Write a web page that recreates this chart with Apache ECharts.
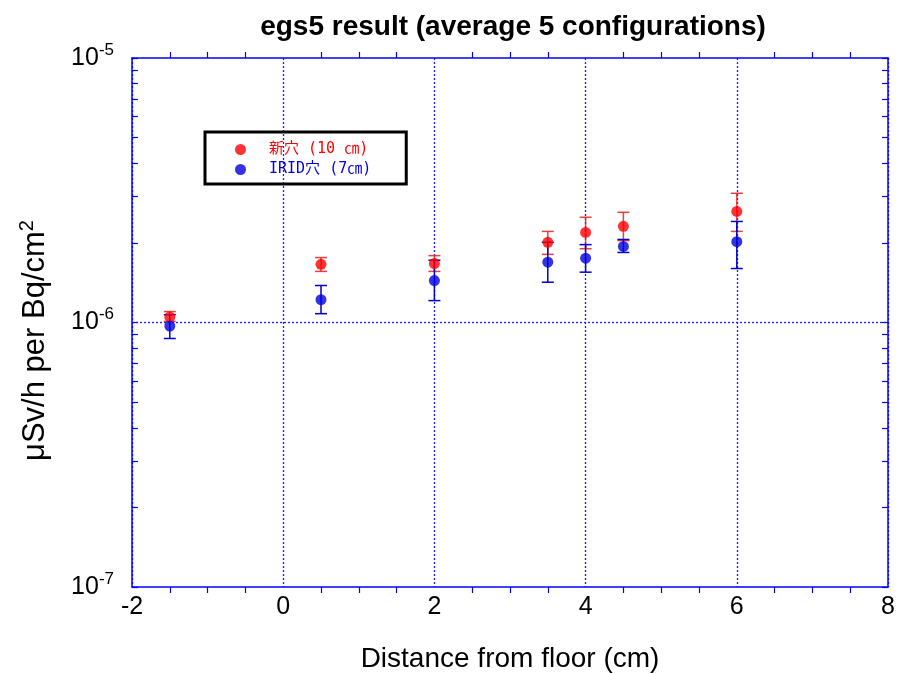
<!DOCTYPE html>
<html>
<head>
<meta charset="utf-8">
<script src="https://cdn.jsdelivr.net/npm/echarts@6/dist/echarts.min.js"></script>
<style>
  html, body { margin: 0; padding: 0; background: #fff; }
  #chartmain { width: 898px; height: 674px; }
</style>
</head>
<body>
<div id="chartmain"></div>
<script>
// distance from floor (cm)
var xs = [-1.5, 0.5, 2, 3.5, 4, 4.5, 6];

// 新穴 (10 ㎝)
var redY  = [1.05e-6, 1.66e-6, 1.67e-6, 2.01e-6, 2.19e-6, 2.31e-6, 2.63e-6];
var redLo = [1.01e-6, 1.56e-6, 1.56e-6, 1.81e-6, 1.90e-6, 2.04e-6, 2.21e-6];
var redHi = [1.10e-6, 1.76e-6, 1.79e-6, 2.21e-6, 2.50e-6, 2.61e-6, 3.08e-6];

// IRID穴 (7㎝)
var blueY  = [0.97e-6, 1.22e-6, 1.44e-6, 1.69e-6, 1.75e-6, 1.94e-6, 2.02e-6];
var blueLo = [0.87e-6, 1.08e-6, 1.21e-6, 1.42e-6, 1.55e-6, 1.84e-6, 1.60e-6];
var blueHi = [1.07e-6, 1.38e-6, 1.72e-6, 2.01e-6, 1.97e-6, 2.06e-6, 2.41e-6];

var seriesNames = ["新穴 (10 ㎝)", "IRID穴 (7㎝)"];

// ticks of the log axis (1..9 x 10^n)
var yTicks = [];
[1e-7, 1e-6].forEach(function(d) {
  for (var k = 1; k <= 9; k++) yTicks.push(k * d);
});
yTicks.push(1e-5);

// dashed reference line at 10^-6
var refY = 1e-6;
var xRange = [-2, 8];

var axisBlue = "#0000ff";
var font = "Liberation Sans";
var dash = { color: "#1a1aff", type: [2, 2], width: 1.3 };

function pts(ys) {
  return xs.map(function(x, i) { return [x, ys[i]]; });
}
function bars(lo, hi) {
  return xs.map(function(x, i) { return [x, lo[i], hi[i]]; });
}
function errRender(color) {
  return function(params, api) {
    var x = api.value(0);
    var a = api.coord([x, api.value(1)]);
    var b = api.coord([x, api.value(2)]);
    var w = 6;
    var st = { stroke: color, lineWidth: 1.5 };
    return {
      type: "group",
      children: [
        { type: "line", shape: { x1: a[0], y1: a[1], x2: b[0], y2: b[1] }, style: st },
        { type: "line", shape: { x1: a[0] - w, y1: a[1], x2: a[0] + w, y2: a[1] }, style: st },
        { type: "line", shape: { x1: b[0] - w, y1: b[1], x2: b[0] + w, y2: b[1] }, style: st }
      ]
    };
  };
}

var xCommon = {
  type: "value", min: xRange[0], max: xRange[1], interval: 2,
  axisLine: { show: true, onZero: false, lineStyle: { color: axisBlue, width: 1.5 } },
  axisTick: { show: false },
  minorTick: { show: true, splitNumber: 4, length: 6, lineStyle: { color: axisBlue, width: 1.2 } },
  splitLine: { show: false },
  minorSplitLine: { show: false }
};
var yCommon = {
  type: "log", logBase: 10, min: 1e-7, max: 1e-5,
  axisLine: { show: true, onZero: false, lineStyle: { color: axisBlue, width: 1.5 } },
  axisTick: { show: true, inside: true, length: 6, customValues: yTicks, lineStyle: { color: axisBlue, width: 1.2 } },
  minorTick: { show: false },
  splitLine: { show: false },
  minorSplitLine: { show: false }
};

var option = {
  animation: false,
  backgroundColor: "#fff",
  title: {
    text: "egs5 result (average 5 configurations)",
    left: 508, top: 8, textAlign: "center",
    textStyle: { fontFamily: font, fontSize: 28, fontWeight: "bold", color: "#000" }
  },
  legend: {
    orient: "vertical",
    left: 205, top: 132,
    padding: [10, 35, 7, 30],
    borderColor: "#000", borderWidth: 3,
    itemWidth: 11, itemHeight: 11, itemGap: 5,
    icon: "circle",
    data: [
      { name: seriesNames[0], textStyle: { color: "#ff0000" } },
      { name: seriesNames[1], textStyle: { color: "#0000dd" } }
    ],
    textStyle: { fontFamily: "'DejaVu Sans Mono', 'Noto Sans CJK JP'", fontSize: 15, padding: [0, 0, 0, 18] }
  },
  grid: { left: 132, top: 58, right: 10, bottom: 87, containLabel: false, outerBoundsMode: "none" },
  xAxis: [
    Object.assign({}, xCommon, {
      position: "bottom",
      name: "Distance from floor (cm)", nameLocation: "middle", nameGap: 58,
      nameTextStyle: { fontFamily: font, fontSize: 28, color: "#000" },
      axisLabel: { fontFamily: font, fontSize: 25, color: "#000", margin: 8 },
      splitLine: { show: true, lineStyle: dash }
    }),
    Object.assign({}, xCommon, { position: "top", axisLabel: { show: false } })
  ],
  yAxis: [
    Object.assign({}, yCommon, {
      position: "left",
      name: "μSv/h per Bq/cm{s|2}", nameLocation: "middle", nameGap: 79,
      nameTextStyle: {
        fontFamily: font, fontSize: 31, color: "#000", padding: [0, 36, 0, 0],
        rich: { s: { fontFamily: font, fontSize: 20, color: "#000", padding: [0, 0, 16, 0] } }
      },
      axisLabel: {
        margin: 18,
        formatter: function(v) {
          var e = Math.round(Math.log(v) / Math.LN10);
          return "{b|10}{s|" + e + "}";
        },
        rich: {
          b: { fontFamily: font, fontSize: 25, color: "#000" },
          s: { fontFamily: font, fontSize: 17, color: "#000", padding: [0, 0, 16, 0] }
        }
      }
    }),
    Object.assign({}, yCommon, { position: "right", axisLabel: { show: false } })
  ],
  series: [
    {
      name: "ref", type: "line", symbol: "none", silent: true,
      lineStyle: dash, data: [[xRange[0], refY], [xRange[1], refY]], z: 1
    },
    {
      name: "errRed", type: "custom", renderItem: errRender("rgba(235,30,30,0.85)"),
      encode: { x: 0, y: [1, 2] }, data: bars(redLo, redHi), z: 2
    },
    {
      name: "errBlue", type: "custom", renderItem: errRender("#0000cc"),
      encode: { x: 0, y: [1, 2] }, data: bars(blueLo, blueHi), z: 2
    },
    {
      name: seriesNames[0], type: "scatter", symbol: "circle", symbolSize: 11,
      itemStyle: { color: "#ff0000" }, data: pts(redY), z: 3
    },
    {
      name: seriesNames[1], type: "scatter", symbol: "circle", symbolSize: 11,
      itemStyle: { color: "#0000dd" }, data: pts(blueY), z: 4
    }
  ]
};

var myChart = echarts.init(document.getElementById("chartmain"));
myChart.setOption(option);
</script>
</body>
</html>
